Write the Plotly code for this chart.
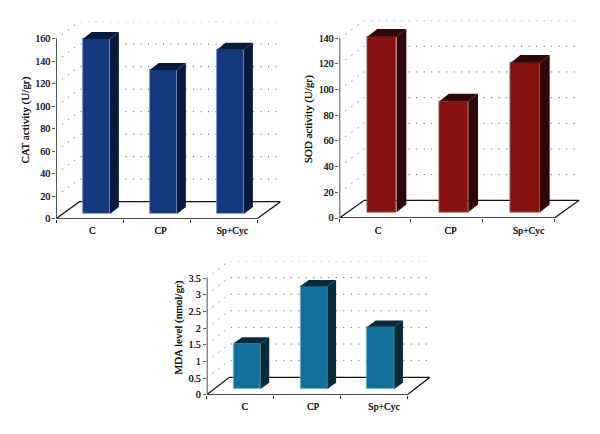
import plotly.graph_objects as go

categories = ["C", "CP", "Sp+Cyc"]
cat_values = [155.5, 128, 146]
sod_values = [136.8, 86.4, 116.5]
mda_values = [1.37, 3.09, 1.87]
cat_ticks = [0, 20, 40, 60, 80, 100, 120, 140, 160]
sod_ticks = [0, 20, 40, 60, 80, 100, 120, 140]
mda_ticks = [0, 0.5, 1, 1.5, 2, 2.5, 3, 3.5]
mda_tick_labels = ["0", "0.5", "1", "1.5", "2", "2.5", "3", "3.5"]

W, H = 600, 434
FONT = "Liberation Serif"
INK = "#111111"
HEAVY = "0.25px 0 0 #111111"

panels = [
    dict(values=cat_values, ticks=cat_ticks, ticktext=[str(t) for t in cat_ticks],
         title="CAT activity (U/gr)", ox=56, oy=218.7, topy=38.7, end=257,
         back=(23.5, 17), depth=(9, 7), bar=(6.8, 4.7), barw=27.2,
         lab=[0.54, 1.56, 2.63], standoff=3,
         front="#13397f", dark="#0a1a3c", edge="#6f8fc4"),
    dict(values=sod_values, ticks=sod_ticks, ticktext=[str(t) for t in sod_ticks],
         title="SOD activity (U/gr)", ox=339.3, oy=218, topy=38.3, end=554.3,
         back=(25, 17.7), depth=(9.7, 7.7), bar=(6.9, 5.7), barw=29.2,
         lab=[0.54, 1.55, 2.64], standoff=3,
         front="#86120f", dark="#310708", edge="#b86a68"),
    dict(values=mda_values, ticks=mda_ticks, ticktext=mda_tick_labels,
         title="MDA level (nmol/gr)", ox=206.7, oy=394.7, topy=278.3, end=407.3,
         back=(22.6, 17.4), depth=(8.7, 6.3), bar=(6.8, 5.7), barw=27.2,
         lab=[0.57, 1.59, 2.65], standoff=3,
         front="#13709b", dark="#082b3c", edge="#6fb8d0"),
]

fig = go.Figure()
shapes = []

for i, p in enumerate(panels):
    n = "" if i == 0 else str(i + 1)
    xa, ya = "x" + n, "y" + n
    span = len(p["values"])
    sx = (p["end"] - p["ox"]) / span
    sy = (p["oy"] - p["topy"]) / p["ticks"][-1]
    bdx, bdy = p["back"][0] / sx, p["back"][1] / sy
    ddx, ddy = p["depth"][0] / sx, p["depth"][1] / sy
    offx, offy = p["bar"][0] / sx, p["bar"][1] / sy
    bw = p["barw"] / sx
    xhi = span + bdx
    yhi = p["ticks"][-1] + bdy

    def line(pts, color, width, dash="solid"):
        path = "M " + " L ".join(f"{a},{b}" for a, b in pts)
        shapes.append(dict(type="path", path=path, xref=xa, yref=ya, layer="below",
                           line=dict(color=color, width=width, dash=dash)))

    for t in p["ticks"][1:]:
        line([(0, t), (bdx, t + bdy), (xhi, t + bdy)], "#555555", 1, "1px,6.5px")
    line([(0, 0), (span, 0), (xhi, bdy), (bdx, bdy), (0, 0)], "#111111", 1.3)
    line([(0, 0), (0, p["ticks"][-1])], "#555555", 2)

    centers = [k + 0.5 + offx for k in range(span)]
    fig.add_trace(go.Bar(x=centers, y=p["values"], base=offy, width=bw, xaxis=xa, yaxis=ya,
                         marker=dict(color=p["front"], line=dict(color=p["edge"], width=0.8)),
                         showlegend=False))
    for c, v in zip(centers, p["values"]):
        l, r, top = c - bw / 2, c + bw / 2, v + offy
        side_x = [r, r, r + ddx, r + ddx, r]
        side_y = [offy, top, top + ddy, offy + ddy, offy]
        top_x = [l, r, r + ddx, l + ddx, l]
        top_y = [top, top, top + ddy, top + ddy, top]
        for fx, fy in ((side_x, side_y), (top_x, top_y)):
            fig.add_trace(go.Scatter(x=fx, y=fy, xaxis=xa, yaxis=ya, mode="lines", fill="toself",
                                     fillcolor=p["dark"], line=dict(width=0), showlegend=False,
                                     hoverinfo="skip", cliponaxis=False))

    fig.update_layout({
        ("xaxis" + n): dict(
            domain=[p["ox"] / W, (p["ox"] + xhi * sx) / W], range=[0, xhi], anchor=ya,
            automargin=False,
            tickmode="array", tickvals=p["lab"], ticktext=categories,
            ticks="outside", ticklen=3, tickcolor="rgba(0,0,0,0)",
            showgrid=False, zeroline=False, showline=False,
            tickfont=dict(family=FONT, size=9.8, color=INK, shadow=HEAVY),
            minor=dict(tickmode="array", tickvals=list(range(span + 1)), ticks="outside",
                       ticklen=3, tickcolor="#222222", tickwidth=1, showgrid=False),
        ),
        ("yaxis" + n): dict(
            domain=[1 - p["oy"] / H, 1 - (p["oy"] - yhi * sy) / H], range=[0, yhi], anchor=xa,
            automargin=False,
            tickmode="array", tickvals=p["ticks"], ticktext=p["ticktext"],
            ticks="outside", ticklen=3, tickcolor="#555555", tickwidth=1,
            showgrid=False, zeroline=False, showline=False,
            tickfont=dict(family=FONT, size=9.8, color=INK, shadow=HEAVY),
            title=dict(text=p["title"], standoff=p["standoff"],
                       font=dict(family=FONT, size=11, color=INK, shadow=HEAVY)),
        ),
    })

fig.update_layout(width=W, height=H, margin=dict(l=0, r=0, t=0, b=0), shapes=shapes,
                  paper_bgcolor="white", plot_bgcolor="rgba(0,0,0,0)", showlegend=False, bargap=0)
fig.write_html("out.html", post_script="document.body.style.margin='0';",
               config=dict(displayModeBar=False))
